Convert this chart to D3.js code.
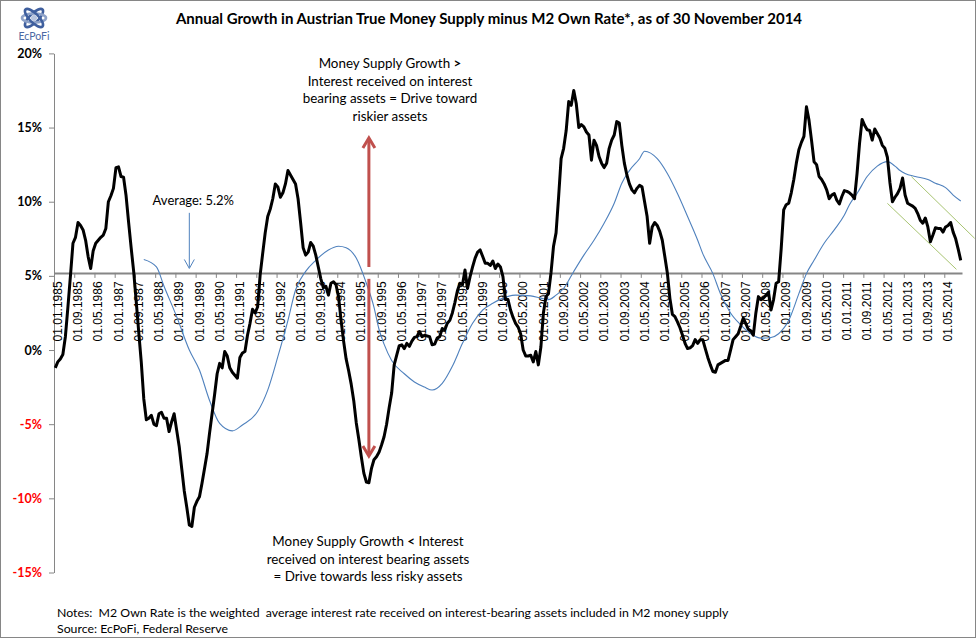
<!DOCTYPE html>
<html>
<head>
<meta charset="utf-8">
<script src="https://cdn.jsdelivr.net/npm/d3@7"></script>
<style>
body { margin: 0; background: #fff; }
</style>
</head>
<body>
<div id="chart"></div>
<script>
// monthly values, Jan 1985 .. Nov 2014 (annual growth minus M2 own rate, %)
var growth = [
-1.2,-0.8,-0.6,-0.3,0.9,2.9,5.0,7.2,7.6,8.6,8.4,8.1,
7.4,6.3,5.5,6.7,7.2,7.4,7.6,7.75,8.2,10.0,10.4,10.9,
12.3,12.35,11.7,11.65,10.4,8.6,6.9,5.3,3.3,1.2,-0.8,-3.3,
-4.7,-4.6,-4.4,-5.0,-5.1,-4.3,-4.2,-4.6,-4.6,-5.5,-4.85,-4.3,
-5.4,-6.5,-8.0,-9.5,-10.6,-11.8,-11.9,-10.6,-10.2,-9.9,-9.0,-8.0,
-7.0,-5.6,-4.3,-3.0,-1.6,-0.9,-1.2,-0.1,-0.4,-1.2,-1.5,-1.7,
-1.9,-0.5,-0.2,-0.1,1.0,1.8,2.75,2.5,2.9,5.05,6.5,7.9,
9.0,9.5,10.2,11.2,11.0,10.3,10.6,11.2,12.1,11.8,11.5,11.2,
10.2,8.6,6.9,6.4,6.6,7.25,7.0,6.4,5.6,4.8,4.2,4.3,
3.7,4.5,4.6,4.4,3.6,2.0,0.6,-0.6,-1.4,-2.3,-3.4,-4.9,
-6.0,-7.2,-8.3,-8.9,-8.95,-8.0,-7.4,-7.2,-6.9,-6.4,-5.85,-5.0,
-3.9,-2.9,-1.0,-0.35,0.3,0.35,0.1,0.45,0.25,0.6,0.85,0.9,
1.25,0.9,1.0,0.95,0.9,0.35,0.4,0.8,0.9,1.45,1.35,1.8,
2.0,2.5,3.2,4.0,4.5,4.4,5.4,4.15,4.95,5.6,6.2,6.6,
6.75,6.3,5.85,5.85,5.7,6.0,5.5,5.8,5.6,4.95,3.4,3.4,
2.7,2.2,1.8,1.55,1.1,0.0,-0.4,-0.4,-0.35,-0.8,-0.1,-1.0,
0.2,2.5,3.6,3.8,5.2,7.0,7.9,10.3,12.9,13.6,14.8,16.75,
16.5,17.5,16.6,15.0,15.2,15.05,14.7,14.5,12.8,14.15,13.8,13.05,
12.6,12.3,12.6,13.6,14.15,14.5,15.4,15.3,13.8,12.6,11.8,11.2,
10.8,10.6,10.9,11.1,11.0,10.0,9.0,7.2,8.3,8.6,8.4,8.0,
7.4,6.3,5.2,3.5,2.4,2.25,1.9,1.5,1.0,0.45,0.1,0.15,
0.3,0.7,0.45,0.7,0.7,0.1,-0.5,-1.0,-1.45,-1.5,-1.0,-0.9,
-0.8,-0.7,-0.7,0.0,0.7,0.9,1.1,1.6,2.15,1.8,1.4,1.3,
1.0,2.5,3.6,3.4,3.5,3.7,3.9,2.7,3.4,4.5,4.6,6.8,
9.45,9.8,9.9,10.6,11.5,12.6,13.5,14.0,14.4,16.4,15.5,14.15,
12.7,12.5,11.7,11.5,11.2,10.8,10.2,10.45,10.55,10.1,9.85,10.35,
10.75,10.7,10.6,10.45,10.2,11.9,13.95,15.55,15.15,14.85,14.8,14.15,
14.9,14.6,14.3,13.8,13.6,13.0,11.3,10.0,10.3,10.55,10.9,11.6,
10.45,9.9,9.8,9.7,9.55,9.2,8.75,8.55,8.9,8.3,7.3,7.75,
8.25,8.2,8.2,7.95,8.3,8.4,8.6,7.95,7.5,6.8,6.05
];
// smooth blue series: [months since Jan 1985, %]
var trend = [
[35,6.1],[40,5.6],[43,4.3],[48,2.25],[53,0.0],[57,-1.35],[61,-3.4],[65,-4.95],[70,-5.45],[74,-5.05],
[80,-4.15],[84,-2.7],[88,-0.45],[92,2.0],[95,4.05],[99,5.3],[103,6.05],[108,6.75],[112,7.0],[115,6.9],
[119,6.2],[123,4.5],[126,2.9],[128,1.4],[130,0.4],[133,-0.7],[138,-1.6],[142,-2.15],[146,-2.5],[149,-2.7],
[153,-2.25],[157,-1.1],[161,0.45],[165,1.8],[169,2.7],[173,3.15],[177,3.5],[182,3.7],[188,3.65],[192,3.5],
[195,3.4],[198,3.7],[201,4.15],[205,5.3],[209,6.4],[213,7.4],[217,8.55],[221,9.9],[224,11.25],[227,12.1],
[231,12.9],[233,13.4],[238,12.9],[242,11.9],[246,10.55],[250,9.0],[254,7.4],[256,6.5],[260,5.15],[263,3.8],
[267,2.5],[271,1.7],[275,1.1],[279,0.8],[283,0.85],[286,1.1],[290,2.0],[294,3.8],[297,5.15],[300,6.05],
[304,7.2],[308,8.1],[312,9.1],[314,9.8],[317,10.55],[321,11.7],[325,12.4],[329,12.7],[332,12.4],[334,12.1],
[336,11.9],[340,11.7],[345,11.5],[348,11.25],[352,10.95],[355,10.45],[358,10.05]
];
var yTicks = [-15, -10, -5, 0, 5, 10, 15, 20];
var average = 5.2;
var labelEvery = 8;
// annotation positions in data units
var redArrows = [[124, 5.6, 14.3], [124, 4.8, -7.15]];
var avgArrow = [53, 9.25, 5.5];
var channel = [[338.5, 11.69, 363.5, 7.53], [329, 9.89, 356.3, 5.44]];
var topNote = ["Money Supply Growth >", "Interest received on interest", "bearing assets = Drive toward", "riskier assets"];
var bottomNote = ["Money Supply Growth < Interest", "received on interest bearing assets", "= Drive towards less risky assets"];

var svg = d3.select("#chart").append("svg")
    .attr("width", 977)
    .attr("height", 639);

svg.append("rect")
    .attr("x", 0.5).attr("y", 0.5)
    .attr("width", 975).attr("height", 637)
    .attr("fill", "#fff")
    .attr("stroke", "#868686");

var x = d3.scaleLinear().domain([-0.5, 358.5]).range([54, 962]);
var y = d3.scaleLinear().domain([-15, 20]).range([572.5, 53.4]);

// logo
var logo = svg.append("g").attr("transform", "translate(34,18)");
[-45, 0, 45].forEach(function (a, k) {
    logo.append("ellipse")
        .attr("rx", 12).attr("ry", 4.5)
        .attr("transform", "rotate(" + a + ")")
        .attr("fill", "none")
        .attr("stroke", k == 1 ? "#8ea2c8" : "#3f5f9e")
        .attr("stroke-width", 2.6);
});
logo.append("circle").attr("r", 3).attr("fill", "#b8c5de");
svg.append("text")
    .attr("x", 34).attr("y", 40)
    .attr("text-anchor", "middle")
    .attr("font-family", "Lato, sans-serif")
    .attr("font-size", "10.5px")
    .attr("fill", "#4a68a3")
    .text("EcPoFi");

svg.append("text")
    .attr("x", 489).attr("y", 24)
    .attr("text-anchor", "middle")
    .attr("font-family", "Lato, sans-serif")
    .attr("font-weight", "bold")
    .attr("font-size", "15px")
    .attr("fill", "#000")
    .text("Annual Growth in Austrian True Money Supply minus M2 Own Rate*, as of 30 November 2014");

// y axis
var yAxis = svg.append("g")
    .attr("transform", "translate(54,0)")
    .call(d3.axisLeft(y).tickValues(yTicks).tickSize(5).tickSizeOuter(0).tickPadding(7)
        .tickFormat(function (d) { return d + "%"; }));
yAxis.selectAll("path, line").attr("stroke", "#868686");
yAxis.selectAll("text")
    .attr("font-family", "Lato, sans-serif")
    .attr("font-weight", "bold")
    .attr("font-size", "12.5px")
    .attr("fill", function (d) { return d < 0 ? "#ff0000" : "#000"; });

// x axis crosses at the average
var months = d3.range(0, growth.length, labelEvery);
var xAxis = svg.append("g")
    .attr("transform", "translate(0," + y(average) + ")")
    .call(d3.axisBottom(x).tickValues(months.map(function (m) { return m - 0.5; }))
        .tickSize(5).tickSizeOuter(0).tickFormat(""));
xAxis.select("path").attr("stroke", "#868686").attr("stroke-width", 2);
xAxis.selectAll("line").attr("stroke", "#868686");

function fmt(m) {
    var mm = m % 12 + 1;
    return "01." + (mm < 10 ? "0" : "") + mm + "." + (1985 + Math.floor(m / 12));
}
svg.append("g").selectAll("text")
    .data(months)
    .join("text")
    .attr("transform", function (m) { return "translate(" + (x(m) + 2.5) + "," + (y(average) + 8.5) + ") rotate(-90)"; })
    .attr("text-anchor", "end")
    .attr("dy", "0.35em")
    .attr("font-family", "'Liberation Sans', Arial, sans-serif")
    .attr("font-size", "12px")
    .attr("fill", "#000")
    .text(fmt);

// green channel
svg.append("g").selectAll("line")
    .data(channel)
    .join("line")
    .attr("x1", function (d) { return x(d[0]); })
    .attr("y1", function (d) { return y(d[1]); })
    .attr("x2", function (d) { return x(d[2]); })
    .attr("y2", function (d) { return y(d[3]); })
    .attr("stroke", "#a8c472")
    .attr("stroke-width", 1);

// series
svg.append("path")
    .datum(trend)
    .attr("fill", "none")
    .attr("stroke", "#4f81bd")
    .attr("stroke-width", 1.1)
    .attr("d", d3.line().curve(d3.curveMonotoneX)
        .x(function (d) { return x(d[0]); })
        .y(function (d) { return y(d[1]); }));

svg.append("path")
    .datum(growth)
    .attr("fill", "none")
    .attr("stroke", "#000")
    .attr("stroke-width", 3)
    .attr("stroke-linejoin", "round")
    .attr("d", d3.line()
        .x(function (d, i) { return x(i); })
        .y(function (d) { return y(d); }));

// arrows
function arrow(d, color, w, head, hw) {
    var ax = x(d[0]), y0 = y(d[1]), y1 = y(d[2]);
    var dir = y1 < y0 ? 1 : -1;
    svg.append("line")
        .attr("x1", ax).attr("y1", y0)
        .attr("x2", ax).attr("y2", y1 + dir * 1)
        .attr("stroke", color).attr("stroke-width", w);
    svg.append("path")
        .attr("d", "M" + (ax - hw) + "," + (y1 + dir * head) + "L" + ax + "," + y1 + "L" + (ax + hw) + "," + (y1 + dir * head))
        .attr("fill", "none")
        .attr("stroke", color)
        .attr("stroke-width", w)
        .attr("stroke-linejoin", "miter");
}
redArrows.forEach(function (d) { arrow(d, "#c0504d", 3, 10, 6); });
arrow(avgArrow, "#4f81bd", 1, 9, 5);

svg.append("text")
    .attr("x", x(avgArrow[0]) + 4).attr("y", y(avgArrow[1]) - 8)
    .attr("text-anchor", "middle")
    .attr("font-family", "Lato, sans-serif")
    .attr("font-size", "13px")
    .attr("fill", "#000")
    .text("Average: " + average + "%");

function noteBlock(lines, cx, top, sign) {
    var t = svg.append("text")
        .attr("text-anchor", "middle")
        .attr("font-family", "Lato, sans-serif")
        .attr("font-size", "13.4px")
        .attr("fill", "#000");
    lines.forEach(function (s, k) {
        var tl = t.append("tspan").attr("x", cx).attr("y", top + k * 17.7);
        var p = s.indexOf(sign);
        if (p >= 0) {
            tl.append("tspan").text(s.slice(0, p));
            tl.append("tspan").attr("font-weight", "bold").text(sign);
            tl.append("tspan").text(s.slice(p + 1));
        } else {
            tl.text(s);
        }
    });
}
noteBlock(topNote, 390, 68, ">");
noteBlock(bottomNote, 368, 546, "<");

svg.append("text")
    .attr("x", 57).attr("y", 617)
    .attr("font-family", "Lato, sans-serif")
    .attr("font-size", "12.3px")
    .attr("fill", "#000")
    .attr("xml:space", "preserve")
    .text("Notes:  M2 Own Rate is the weighted  average interest rate received on interest-bearing assets included in M2 money supply");
svg.append("text")
    .attr("x", 57).attr("y", 633)
    .attr("font-family", "Lato, sans-serif")
    .attr("font-size", "12.3px")
    .attr("fill", "#000")
    .text("Source: EcPoFi, Federal Reserve");
</script>
</body>
</html>
